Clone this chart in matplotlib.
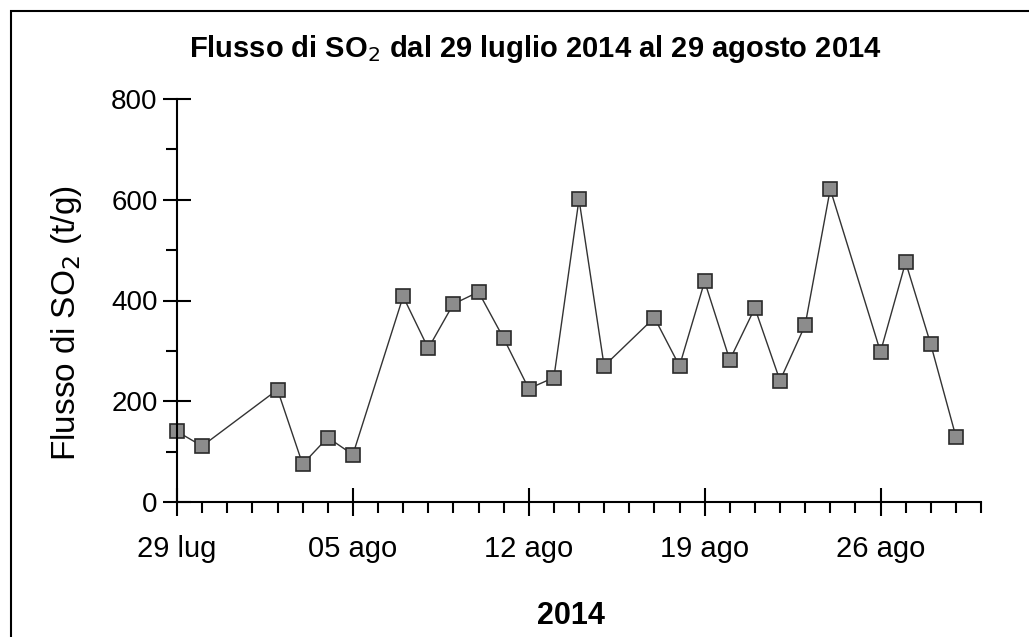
import numpy as np
import pandas as pd
import matplotlib
matplotlib.use("Agg")
import matplotlib.pyplot as plt
import matplotlib.dates as mdates
from matplotlib.patches import Rectangle

plt.rcParams['font.family'] = ['Liberation Sans', 'DejaVu Sans']

# SO2 flux measurements (t/g), Jul 29 - Aug 29 2014
dates = ['2014-07-29', '2014-07-30', '2014-08-02', '2014-08-03', '2014-08-04',
         '2014-08-05', '2014-08-07', '2014-08-08', '2014-08-09', '2014-08-10',
         '2014-08-11', '2014-08-12', '2014-08-13', '2014-08-14', '2014-08-15',
         '2014-08-17', '2014-08-18', '2014-08-19', '2014-08-20', '2014-08-21',
         '2014-08-22', '2014-08-23', '2014-08-24', '2014-08-26', '2014-08-27',
         '2014-08-28', '2014-08-29']
flux = [140, 111, 223, 75, 128, 94, 408, 305, 393, 417, 325, 225, 247, 601,
        270, 366, 270, 438, 282, 385, 241, 351, 621, 298, 476, 313, 130]

tick_dates = ['2014-07-29', '2014-08-05', '2014-08-12', '2014-08-19', '2014-08-26']
tick_labels = ['29 lug', '05 ago', '12 ago', '19 ago', '26 ago']

x = pd.to_datetime(dates)

fig = plt.figure(figsize=(10.29, 6.37), dpi=100)
ax = fig.add_axes([177/1029, 1 - 502/637, (981 - 177)/1029, (502 - 99)/637])

ax.plot(x, flux, color='#333333', linewidth=1.0, marker='s', markersize=10,
        markerfacecolor='#8c8c8c', markeredgecolor='#2a2a2a', markeredgewidth=1.2,
        clip_on=False)

ax.set_xlim(pd.Timestamp('2014-07-29'), pd.Timestamp('2014-08-30'))
ax.set_ylim(0, 800)

ax.set_xticks(pd.to_datetime(tick_dates))
ax.set_xticklabels(tick_labels)
ax.xaxis.set_minor_locator(mdates.DayLocator())
ax.set_yticks([0, 200, 400, 600, 800])
ax.set_yticks([100, 300, 500, 700], minor=True)

for s in ['top', 'right']:
    ax.spines[s].set_visible(False)
for s in ['left', 'bottom']:
    ax.spines[s].set_linewidth(1.5)

ax.tick_params(which='major', direction='inout', length=20, width=1.5, color='black')
ax.tick_params(axis='x', which='major', pad=14, labelsize=21)
ax.tick_params(axis='y', which='major', pad=4, labelsize=20)
ax.tick_params(which='minor', direction='out', length=8, width=1.5)

fig.text(66/1029, 1 - 323/637, 'Flusso di SO$_2$ (t/g)', fontsize=24,
         rotation=90, ha='center', va='center')
fig.text(571/1029, 1 - 616/637, '2014', fontsize=22, fontweight='bold',
         ha='center', va='center')
fig.text(535/1029, 1 - 49/637, 'Flusso di SO$_2$ dal 29 luglio 2014 al 29 agosto 2014',
         fontsize=21, fontweight='bold', ha='center', va='center')

# outer frame
fig.patches.append(Rectangle((11/1029, -0.2), 1.2, 1.2 - 11/637,
                             transform=fig.transFigure, fill=False,
                             edgecolor='black', linewidth=1.5))

fig.savefig('out.png', dpi=100, facecolor='white')
